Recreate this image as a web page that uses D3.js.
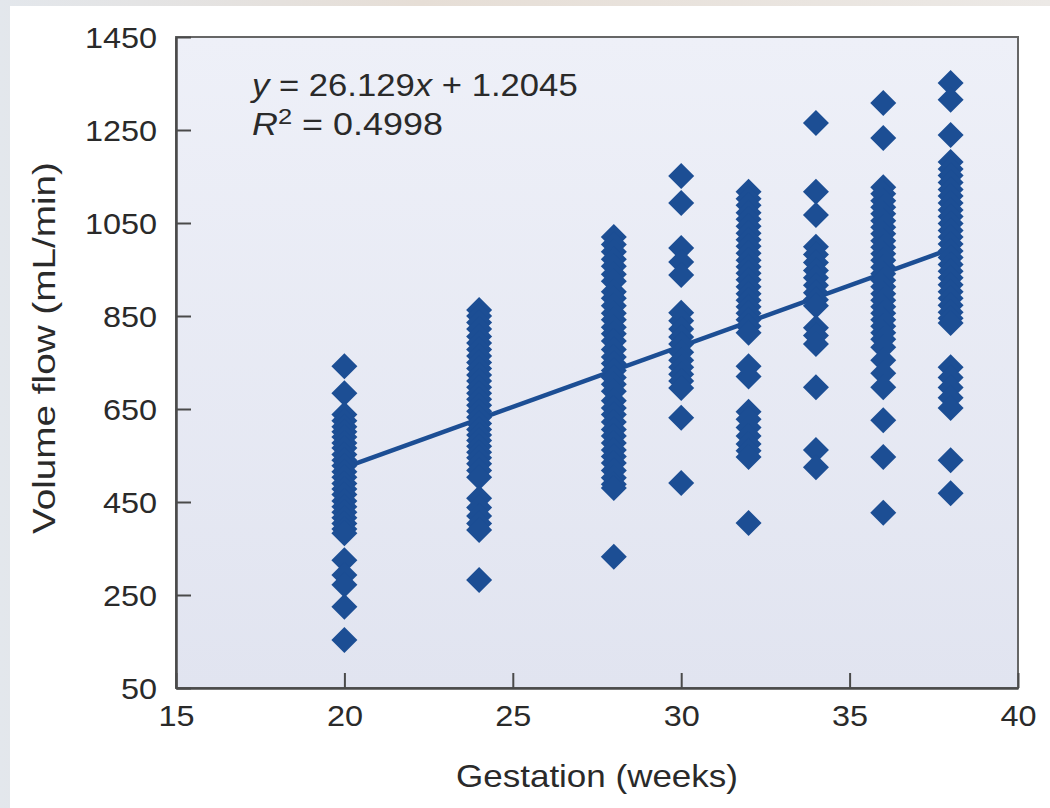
<!DOCTYPE html>
<html><head><meta charset="utf-8">
<script src="https://cdn.jsdelivr.net/npm/d3@7"></script>
<style>body{margin:0;background:#fff;} svg{display:block;}</style>
</head><body>
<svg id="c" width="1050" height="808"></svg>
<script>
// ---- data ----
const weeks = [20, 24, 28, 30, 32, 34, 36, 38];
const vol20 = [742, 684, 638, 625, 612, 601, 590, 577, 566, 552, 540, 528, 515, 503, 490, 478, 466, 452, 440, 428, 416, 404, 392, 383, 325, 293, 272, 225, 153];
const vol24 = [863, 850, 836, 822, 806, 792, 778, 764, 750, 737, 723, 710, 697, 684, 671, 658, 645, 632, 619, 606, 594, 582, 570, 557, 545, 532, 518, 503, 458, 438, 420, 404, 390, 282];
const vol28 = [1020, 1004, 988, 972, 957, 940, 925, 902, 888, 872, 856, 842, 826, 812, 796, 778, 762, 748, 733, 718, 703, 688, 668, 652, 638, 622, 606, 592, 577, 562, 548, 534, 518, 502, 488, 480, 332];
const vol30 = [1151, 1093, 996, 966, 938, 857, 840, 822, 805, 790, 772, 755, 740, 725, 710, 695, 631, 491];
const vol32 = [1117, 1102, 1088, 1072, 1058, 1043, 1028, 1014, 1000, 985, 970, 956, 942, 928, 913, 898, 884, 870, 856, 842, 828, 814, 742, 720, 644, 628, 610, 592, 575, 560, 547, 405];
const vol34 = [1265, 1117, 1067, 999, 982, 965, 948, 932, 916, 900, 885, 872, 825, 808, 790, 697, 562, 525];
const vol36 = [1308, 1233, 1127, 1113, 1098, 1084, 1070, 1055, 1041, 1027, 1012, 998, 984, 970, 955, 941, 927, 913, 898, 884, 870, 856, 842, 828, 814, 800, 783, 755, 727, 697, 626, 547, 427];
const vol38 = [1351, 1315, 1239, 1181, 1166, 1152, 1137, 1122, 1108, 1093, 1078, 1064, 1049, 1034, 1020, 1005, 990, 976, 961, 946, 932, 917, 902, 888, 873, 858, 845, 835, 740, 718, 696, 674, 652, 540, 469];
const volumes = [vol20, vol24, vol28, vol30, vol32, vol34, vol36, vol38];
const xTicks = [15, 20, 25, 30, 35, 40];
const yTicks = [50, 250, 450, 650, 850, 1050, 1250, 1450];
const slope = 26.129, intercept = 1.2045, r2 = 0.4998;
const xTitle = "Gestation (weeks)";
const yTitle = "Volume flow (mL/min)";

// ---- drawing ----
const svg = d3.select("#c");
const FONT = "'Liberation Sans', Arial, Helvetica, sans-serif";
const TXT = "#2a2a2a";
const BLUE = "#1c4e94";
const m = {l: 176, t: 37, r: 1018, b: 688};
const x = d3.scaleLinear().domain([15, 40]).range([m.l, m.r]);
const y = d3.scaleLinear().domain([50, 1450]).range([m.b, m.t]);

const defs = svg.append("defs");
const bg = defs.append("linearGradient").attr("id", "bgOuter").attr("x1", 0).attr("y1", 0).attr("x2", 1).attr("y2", 0);
bg.append("stop").attr("offset", "0%").attr("stop-color", "#e3e7ec");
bg.append("stop").attr("offset", "40%").attr("stop-color", "#e6ded6");
bg.append("stop").attr("offset", "100%").attr("stop-color", "#ece9e6");
const pg = defs.append("linearGradient").attr("id", "bgPlot").attr("x1", 0).attr("y1", 0).attr("x2", 0).attr("y2", 1);
pg.append("stop").attr("offset", "0%").attr("stop-color", "#eef0f8");
pg.append("stop").attr("offset", "100%").attr("stop-color", "#e1e4f0");

svg.append("rect").attr("width", 1050).attr("height", 808).attr("fill", "url(#bgOuter)");
svg.append("rect").attr("x", 10).attr("y", 6).attr("width", 1040).attr("height", 802).attr("fill", "#ffffff");

// plot area
svg.append("rect").attr("x", m.l).attr("y", m.t).attr("width", m.r - m.l).attr("height", m.b - m.t)
  .attr("fill", "url(#bgPlot)").attr("stroke", "#666").attr("stroke-width", 2);

// axes
const yAxis = d3.axisLeft(y).tickValues(yTicks).tickSizeInner(-15).tickSizeOuter(0).tickPadding(19).tickFormat(d3.format("d"));
const xAxis = d3.axisBottom(x).tickValues(xTicks).tickSizeInner(-15).tickSizeOuter(0).tickPadding(19).tickFormat(d3.format("d"));
const gy = svg.append("g").attr("transform", `translate(${m.l},0)`).call(yAxis);
const gx = svg.append("g").attr("transform", `translate(0,${m.b})`).call(xAxis);
[gx, gy].forEach(g => {
  g.select(".domain").attr("stroke", "#4a4a4a").attr("stroke-width", 2.5);
  g.selectAll(".tick line").attr("stroke", "#4a4a4a").attr("stroke-width", 2);
  g.selectAll(".tick text").attr("font-family", FONT).attr("font-size", 30).attr("fill", TXT);
});
gy.selectAll(".tick text").attr("x", 0).attr("dy", "0.35em").attr("transform", "translate(-19,0) scale(1.08,1)");
gx.selectAll(".tick text").attr("x", 0).attr("y", 17).attr("transform", "scale(1.08,1)");

// regression line
const x0 = weeks[0], x1 = weeks[weeks.length - 1];
svg.append("line")
  .attr("x1", x(x0)).attr("y1", y(slope * x0 + intercept))
  .attr("x2", x(x1)).attr("y2", y(slope * x1 + intercept))
  .attr("stroke", BLUE).attr("stroke-width", 4.5);

// points
const pts = [];
weeks.forEach((w, i) => volumes[i].forEach(v => pts.push({w, v})));
const R = 13;
svg.append("g").selectAll("path").data(pts).join("path")
  .attr("d", d => { const cx = x(d.w), cy = y(d.v); return `M${cx},${cy - R}L${cx + R},${cy}L${cx},${cy + R}L${cx - R},${cy}Z`; })
  .attr("fill", BLUE);

// helper: scale factor to stretch text to target width
function stretchText(t, target) {
  return target / t.node().getBBox().width;
}

// equation
const eq = svg.append("g");
const eqT = eq.append("text").attr("font-family", FONT).attr("font-size", 31).attr("fill", TXT);
eqT.append("tspan").attr("font-style", "italic").text("y");
eqT.append("tspan").text(" = 26.129");
eqT.append("tspan").attr("font-style", "italic").text("x");
eqT.append("tspan").text(" + 1.2045");
let k = stretchText(eqT, 328);
eq.attr("transform", `translate(252,96) scale(${k},1)`);

const r2g = svg.append("g");
const r2T = r2g.append("text").attr("font-family", FONT).attr("font-size", 31).attr("fill", TXT);
r2T.append("tspan").attr("font-style", "italic").text("R");
r2T.append("tspan").attr("font-size", 22).attr("dy", -11).text("2");
r2T.append("tspan").attr("dy", 11).text(" = " + r2.toFixed(4));
k = stretchText(r2T, 191);
r2g.attr("transform", `translate(252,135) scale(${k},1)`);

// axis titles
const xt = svg.append("g");
const xtT = xt.append("text").attr("font-family", FONT).attr("font-size", 31).attr("fill", TXT).attr("text-anchor", "middle").text(xTitle);
k = stretchText(xtT, 282);
xt.attr("transform", `translate(${(m.l + m.r) / 2},787) scale(${k},1)`);

const yt = svg.append("g");
const ytT = yt.append("text").attr("font-family", FONT).attr("font-size", 31).attr("fill", TXT).attr("text-anchor", "middle").text(yTitle);
k = stretchText(ytT, 372);
yt.attr("transform", `translate(55,348) rotate(-90) scale(${k},1)`);
</script>
</body></html>
